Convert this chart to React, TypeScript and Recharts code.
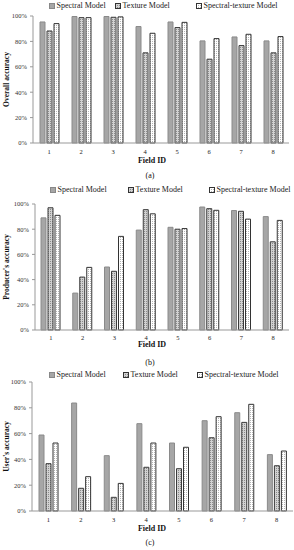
import { BarChart, Bar, XAxis, YAxis, Legend } from 'recharts'

const fieldIds = ['1', '2', '3', '4', '5', '6', '7', '8']
const seriesNames = ['Spectral Model', 'Texture Model', 'Spectral-texture Model']
const pctTicks = [0, 20, 40, 60, 80, 100]

// (a) overall accuracy
const overallSpectral = [95.3, 99.6, 99.6, 91.7, 95.3, 80.4, 83.5, 80.4]
const overallTexture = [88.2, 98.7, 99, 71, 90.9, 66, 76.7, 71]
const overallCombined = [94, 98.7, 99.3, 86.4, 95, 82.2, 85.6, 83.8]

// (b) producer's accuracy
const producerSpectral = [89, 29.3, 50, 79.3, 81.5, 97.6, 94.8, 90]
const producerTexture = [97, 42, 46.6, 95.5, 80, 96.3, 94.2, 70]
const producerCombined = [91, 49.7, 74.3, 92.2, 80.5, 95, 88, 87]

// (c) user's accuracy
const userSpectral = [58.9, 83.7, 42.9, 67.7, 52.7, 70, 76.2, 43.7]
const userTexture = [36.7, 17.6, 10.6, 33.9, 32.8, 56.8, 68.7, 35.1]
const userCombined = [52.7, 26.6, 21.4, 52.7, 49.4, 73.1, 82.7, 46.5]

const SERIF = '"Liberation Serif", "Times New Roman", serif'
const W = 294

interface Row {
  id: string
  spectral: number
  texture: number
  combined: number
}

const buildRows = (s: number[], t: number[], c: number[]): Row[] =>
  fieldIds.map((id, i) => ({ id, spectral: s[i], texture: t[i], combined: c[i] }))

interface PanelProps {
  pid: string
  rows: Row[]
  yLabel: string
  caption: string
  top: number
  legendH: number
  plotH: number
  xAxisH: number
  left: number
  right: number
  tickGap: number
  legendX: number[]
  captionY: number
}

function LegendIcon({ i, pid }: { i: number; pid: string }) {
  const fill = i === 0 ? '#a6a6a6' : i === 1 ? `url(#${pid}-tex)` : `url(#${pid}-st)`
  const stroke = i === 0 ? '#888' : '#333'
  return (
    <svg
      width={6}
      height={6}
      viewBox="0 0 6 6"
      style={{ width: 6, height: 6, flex: '0 0 6px', marginRight: 1.5, display: 'block' }}
    >
      <rect x={0.5} y={0.5} width={5} height={5} fill={fill} stroke={stroke} strokeWidth={1} />
    </svg>
  )
}

function Panel(p: PanelProps) {
  const height = p.legendH + p.plotH + p.xAxisH
  const plotCenter = (p.left + p.right) / 2

  const legendContent = () => (
    <div style={{ position: 'relative', height: p.legendH, width: W, fontFamily: SERIF, fontSize: 8 }}>
      {seriesNames.map((name, i) => (
        <div
          key={name}
          style={{
            position: 'absolute', left: p.legendX[i], top: 0, height: 9, lineHeight: '9px',
            display: 'flex', alignItems: 'center', whiteSpace: 'nowrap', color: '#222',
          }}
        >
          <LegendIcon i={i} pid={p.pid} />
          {name}
        </div>
      ))}
    </div>
  )

  return (
    <>
      <div style={{ position: 'absolute', left: 0, top: p.top }}>
        <BarChart
          width={W}
          height={height}
          data={p.rows}
          margin={{ top: 0, right: W - p.right, bottom: 0, left: 0 }}
          barSize={5}
          barGap={2}
        >
          <defs>
            <pattern id={`${p.pid}-tex`} width={2} height={2} patternUnits="userSpaceOnUse">
              <rect width={2} height={2} fill="#d2d2d2" />
              <rect width={1} height={1} fill="#8a8a8a" />
            </pattern>
            <pattern id={`${p.pid}-st`} width={2} height={2} patternUnits="userSpaceOnUse">
              <rect width={2} height={2} fill="#ffffff" />
              <rect width={1} height={1} fill="#b4b4b4" />
            </pattern>
          </defs>
          <Legend verticalAlign="top" align="left" content={legendContent} wrapperStyle={{ left: 0, top: 0 }} />
          <XAxis
            dataKey="id"
            height={p.xAxisH}
            axisLine={{ stroke: '#999' }}
            tickLine={false}
            tickSize={p.tickGap}
            tickMargin={0}
            tick={{ fontSize: 6.5, fill: '#222', fontFamily: SERIF }}
            label={{
              value: 'Field ID', position: 'insideBottom', offset: 1, dx: 152 - plotCenter,
              style: { fontSize: 8, fontWeight: 700, fontFamily: SERIF, fill: '#111' },
            }}
          />
          <YAxis
            width={p.left}
            domain={[0, 100]}
            ticks={pctTicks}
            interval={0}
            tickFormatter={(v: number) => `${v}%`}
            axisLine={{ stroke: '#999' }}
            tickLine={{ stroke: '#999' }}
            tickSize={3}
            tickMargin={3}
            tick={{ fontSize: 6.5, fill: '#333', fontFamily: SERIF }}
            label={{
              value: p.yLabel, angle: -90, position: 'insideLeft', offset: 6,
              style: { textAnchor: 'middle', fontSize: 7.5, fontWeight: 700, fontFamily: SERIF, fill: '#111' },
            }}
          />
          <Bar dataKey="spectral" name={seriesNames[0]} fill="#a6a6a6" stroke="#8a8a8a" strokeWidth={1} isAnimationActive={false} />
          <Bar dataKey="texture" name={seriesNames[1]} fill={`url(#${p.pid}-tex)`} stroke="#3a3a3a" strokeWidth={1} isAnimationActive={false} />
          <Bar dataKey="combined" name={seriesNames[2]} fill={`url(#${p.pid}-st)`} stroke="#333" strokeWidth={1} isAnimationActive={false} />
        </BarChart>
      </div>
      <div
        style={{
          position: 'absolute', left: 0, top: p.captionY - 5, width: 300, height: 10, lineHeight: '10px',
          textAlign: 'center', fontFamily: SERIF, fontSize: 8, color: '#111',
        }}
      >
        {p.caption}
      </div>
    </>
  )
}

export default function App() {
  return (
    <div style={{ position: 'fixed', left: 0, top: 0, width: W, height: 550, background: '#fff', overflow: 'hidden' }}>
      <Panel
        pid="oa"
        rows={buildRows(overallSpectral, overallTexture, overallCombined)}
        yLabel="Overall accuracy"
        caption="(a)"
        top={1}
        legendH={15}
        plotH={127}
        xAxisH={21}
        left={33}
        right={289}
        tickGap={6.3}
        legendX={[49, 115, 196]}
        captionY={175.5}
      />
      <Panel
        pid="pa"
        rows={buildRows(producerSpectral, producerTexture, producerCombined)}
        yLabel="Producer's accuracy"
        caption="(b)"
        top={185}
        legendH={19}
        plotH={126}
        xAxisH={18}
        left={35}
        right={289}
        tickGap={5.5}
        legendX={[50, 128, 209]}
        captionY={362.7}
      />
      <Panel
        pid="ua"
        rows={buildRows(userSpectral, userTexture, userCombined)}
        yLabel="User's accuracy"
        caption="(c)"
        top={370}
        legendH={12}
        plotH={129}
        xAxisH={21}
        left={32}
        right={293}
        tickGap={6.7}
        legendX={[49, 123, 197]}
        captionY={543.3}
      />
    </div>
  )
}
